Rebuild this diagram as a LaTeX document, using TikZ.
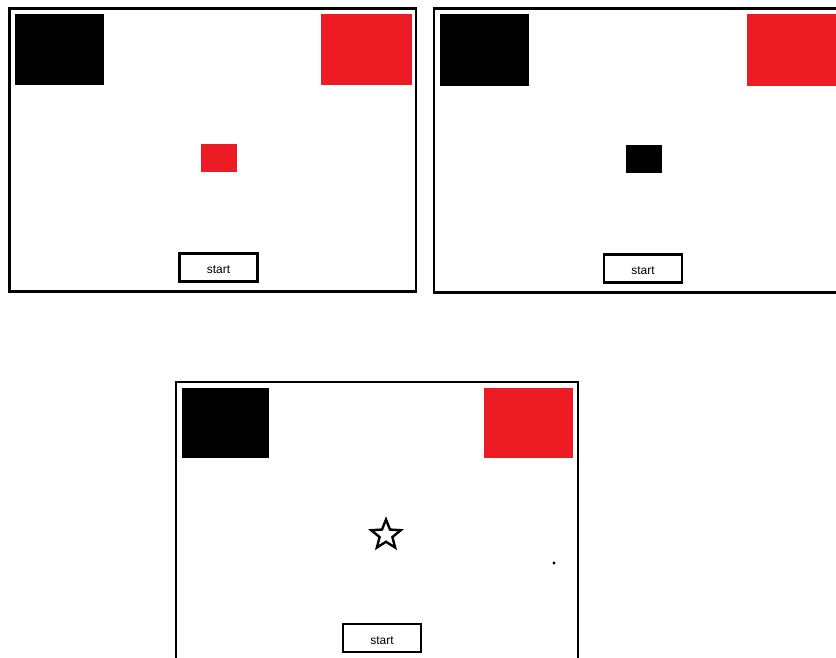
\documentclass[tikz,border=0pt]{standalone}
\usepackage{fontspec}
\setmainfont{Liberation Sans}
\usetikzlibrary{shapes.geometric}
\definecolor{pred}{HTML}{ED1C24}
\begin{document}
\begin{tikzpicture}[x=1pt,y=-1pt,
  frame/.style={draw=black,line width=2.8pt},
  blk/.style={fill=black},
  redbox/.style={fill=pred},
  btn/.style={draw=black,line width=2.2pt,minimum width=78pt,minimum height=28pt,inner sep=0pt,font=\fontsize{12}{14}\selectfont,text depth=0pt},
]
\useasboundingbox (0,0) rectangle (836,658);
\clip (0,0) rectangle (836,658);
% panel 1
\draw[frame] (9.5,8.5) rectangle (416,291.5);
\fill[blk] (15,14) rectangle (104,85);
\fill[redbox] (321,14) rectangle (412,85);
\fill[redbox] (201,144) rectangle (237,172);
\node[btn] (s1) at (218.5,267.5) {\raisebox{-4.5pt}{start}};
% panel 2
\draw[frame] (434,8.5) rectangle (850,292.5);
\fill[blk] (440,14) rectangle (529,86);
\fill[redbox] (747,14) rectangle (840,86);
\fill[blk] (626,145) rectangle (662,173);
\node[btn] (s2) at (643,268.5) {\raisebox{-4.5pt}{start}};
% panel 3
\draw[frame] (176,382) rectangle (578,680);
\fill[blk] (182,388) rectangle (269,458);
\fill[redbox] (484,388) rectangle (573,458);
\node[star,star points=5,star point ratio=2.3,minimum size=31pt,inner sep=0pt,draw=black,line width=2.4pt] (st) at (386,535) {};
\fill (554,563) circle (1.7);
\node[btn] (s3) at (382,638) {\raisebox{-4.5pt}{start}};
\end{tikzpicture}
\end{document}
